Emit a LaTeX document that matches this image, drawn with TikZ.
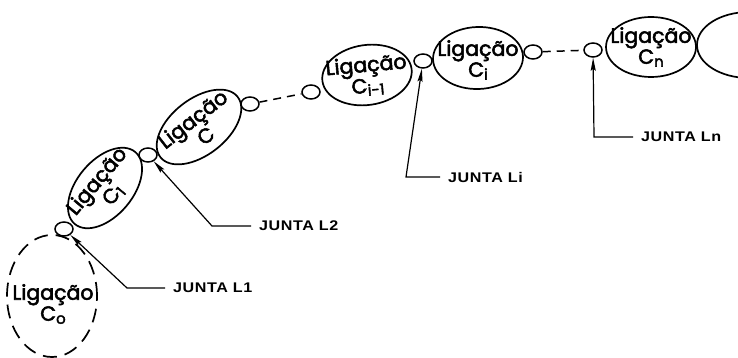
\documentclass[tikz,border=0pt]{standalone}
\usepackage{fontspec}
\usetikzlibrary{shapes.geometric,arrows.meta}
\newfontfamily\ligfont[FakeBold=2.6]{Poppins}
\newfontfamily\jfont[FakeStretch=1.15,LetterSpace=4]{Liberation Sans}
% lowered index after a letter
\newcommand\sx[1]{\raisebox{-3pt}{\fontsize{15}{15}\selectfont #1}}

\begin{document}
\begin{tikzpicture}[x=1pt,y=-1pt,
  link/.style={ellipse, draw, line width=1.7pt, inner sep=0pt},
  joint/.style={ellipse, draw, line width=1.5pt, minimum width=18pt, minimum height=14pt, inner sep=0pt},
  ligtext/.style={font=\ligfont\fontsize{20.5}{21}\selectfont, align=center, inner sep=0pt},
  jlabel/.style={font=\jfont\bfseries\fontsize{14}{14}\selectfont, anchor=west, inner xsep=8pt, inner ysep=0pt},
  leader/.style={line width=1.2pt, -{Stealth[length=13pt,width=5pt,inset=2pt]}},
  chain/.style={line width=1.5pt, dash pattern=on 8pt off 6pt}]
\useasboundingbox (0,0) rectangle (738,358);

% links
\node[link, minimum width=90pt, minimum height=122pt, dash pattern=on 14pt off 8pt] (c0) at (52,296) {};
\node[link, minimum width=94pt, minimum height=56pt, rotate=50] (c1) at (105,188) {};
\node[link, minimum width=98pt, minimum height=56pt, rotate=38] (c) at (199,127) {};
\node[link, minimum width=90pt, minimum height=60pt, rotate=8] (cim) at (367,75) {};
\node[link, minimum width=90pt, minimum height=62pt, rotate=2] (ci) at (478,58) {};
\node[link, minimum width=90pt, minimum height=60pt] (cn) at (651,47) {};
\node[link, minimum width=104pt, minimum height=66pt] (cx) at (749,45) {};

% link names
\node[ligtext] (t0) at (53,304) {Ligação\\C\sx{o}};
\node[ligtext, rotate=50] (t1) at (105,188) {Ligação\\C\sx{1}};
\node[ligtext, rotate=38] (tc) at (199,127) {Ligação\\C};
\node[ligtext, rotate=5] (tim) at (367,76) {Ligação\\C\sx{i-1}};
\node[ligtext] (ti) at (478,60) {Ligação\\C\sx{i}};
\node[ligtext] (tn) at (651,47) {Ligação\\C\sx{n}};

% joints
\node[joint] (j1) at (64,229) {};
\node[joint] (j2) at (148,155) {};
\node[joint] (j3) at (250,104) {};
\node[joint] (j4) at (311,92) {};
\node[joint] (j5) at (423,61) {};
\node[joint] (j6) at (533,52) {};
\node[joint] (j7) at (593,50) {};

% omitted links
\draw[chain] (j3) -- (j4);
\draw[chain] (j6) -- (j7);

% joint labels
\node[jlabel] (n1) at (165,288) {JUNTA L1};
\node[jlabel] (n2) at (251,226) {JUNTA L2};
\node[jlabel] (ni) at (440,177) {JUNTA Li};
\node[jlabel] (nn) at (633,137) {JUNTA Ln};
\coordinate (k1) at (127,288);
\coordinate (k2) at (212,226);
\coordinate (ki) at (406,177);
\coordinate (kn) at (594,137);
\draw[leader] (n1.west) -- (k1) -- (j1);
\draw[leader] (n2.west) -- (k2) -- (j2);
\draw[leader] (ni.west) -- (ki) -- (j5);
\draw[leader] (nn.west) -- (kn) -- (j7);
\end{tikzpicture}
\end{document}
